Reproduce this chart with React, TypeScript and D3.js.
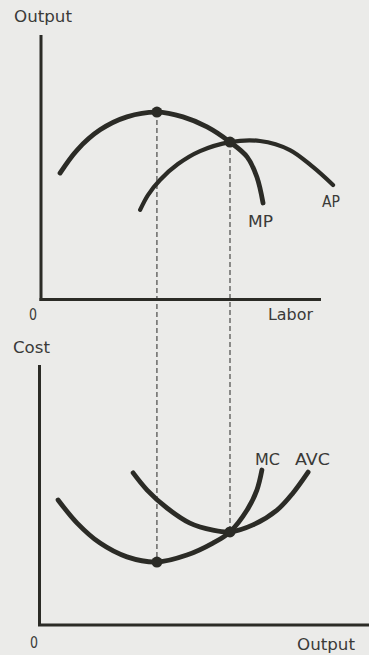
import React from "react";
import * as d3 from "d3";

// Top panel: product curves (x = labor units, y = output units)
const mpX = [0.68, 1.29, 2.11, 3.07, 4.14, 5.07, 5.93, 6.75, 7.36, 7.71, 7.93];
const mpY = [4.79, 5.66, 6.42, 6.91, 7.09, 6.91, 6.53, 5.96, 5.4, 4.64, 3.66];
const apX = [3.54, 3.82, 4.25, 4.89, 5.68, 6.75, 7.82, 8.89, 9.71, 10.43];
const apY = [3.4, 3.96, 4.53, 5.13, 5.62, 5.96, 6.0, 5.66, 5.02, 4.34];

// Bottom panel: cost curves
const mcX = [0.61, 1.29, 2.11, 3.07, 4.14, 5.21, 6.14, 6.75, 7.36, 7.71, 7.89];
const mcY = [4.81, 3.92, 3.15, 2.62, 2.42, 2.69, 3.15, 3.58, 4.42, 5.19, 5.96];
const avcX = [3.29, 3.79, 4.5, 5.32, 6.14, 6.75, 7.57, 8.43, 9.0, 9.54];
const avcY = [5.85, 5.19, 4.5, 3.92, 3.65, 3.58, 3.85, 4.42, 5.08, 5.88];

// Key points
const keyX = [4.14, 6.75];
const keyTopY = [7.09, 5.96];
const keyBottomY = [2.42, 3.58];

const W = 369;
const H = 655;
const BG = "#ebebe9";
const INK = "#2b2b26";
const TXT = "#3a3a38";

export default function App() {
  const x = d3.scaleLinear().domain([0, 10]).range([41, 321]);
  const yTop = d3.scaleLinear().domain([0, 10]).range([300, 35]);
  const yBot = d3.scaleLinear().domain([0, 10]).range([625, 365]);

  const mk = (xs: number[], ys: number[], ys2: d3.ScaleLinear<number, number>) =>
    d3
      .line<number>()
      .x((_, i) => x(xs[i]))
      .y((_, i) => ys2(ys[i]))
      .curve(d3.curveCatmullRom.alpha(0.5))(xs) as string;

  const font = "'DejaVu Sans', Verdana, sans-serif";
  const T = (txt: string, tx: number, ty: number, w: number, size = 15) => (
    <text
      x={tx}
      y={ty}
      fontSize={size}
      fill={TXT}
      fontFamily={font}
      textLength={w}
      lengthAdjust="spacingAndGlyphs"
    >
      {txt}
    </text>
  );

  return (
    <svg
      width={W}
      height={H}
      style={{ position: "absolute", left: 0, top: 0, display: "block" }}
    >
      <rect x={0} y={0} width={W} height={H} fill={BG} />

      {/* dashed verticals */}
      {keyX.map((k, i) => (
        <line
          key={"d" + i}
          x1={x(k)}
          x2={x(k)}
          y1={yTop(keyTopY[i])}
          y2={yBot(keyBottomY[i])}
          stroke="#4a4a48"
          strokeWidth={1.2}
          strokeDasharray="5,3"
        />
      ))}

      {/* top axes */}
      <line x1={x(0)} x2={x(0)} y1={yTop(10)} y2={yTop(0) + 1} stroke={INK} strokeWidth={3} />
      <line x1={x(0) - 1.5} x2={x(10)} y1={yTop(0) - 0.5} y2={yTop(0) - 0.5} stroke={INK} strokeWidth={3} />

      {/* bottom axes */}
      <line x1={x(0) - 1.5} x2={x(0) - 1.5} y1={yBot(10)} y2={yBot(0) + 1} stroke={INK} strokeWidth={3} />
      <line x1={x(0) - 3} x2={W} y1={yBot(0)} y2={yBot(0)} stroke={INK} strokeWidth={3} />

      {/* curves */}
      <path d={mk(mpX, mpY, yTop)} fill="none" stroke={INK} strokeWidth={4.8} strokeLinecap="round" />
      <path d={mk(apX, apY, yTop)} fill="none" stroke={INK} strokeWidth={4.2} strokeLinecap="round" />
      <path d={mk(mcX, mcY, yBot)} fill="none" stroke={INK} strokeWidth={4.8} strokeLinecap="round" />
      <path d={mk(avcX, avcY, yBot)} fill="none" stroke={INK} strokeWidth={4.8} strokeLinecap="round" />

      {/* key dots */}
      {keyX.map((k, i) => (
        <g key={"p" + i}>
          <circle cx={x(k)} cy={yTop(keyTopY[i])} r={5.5} fill={INK} />
          <circle cx={x(k)} cy={yBot(keyBottomY[i])} r={5.5} fill={INK} />
        </g>
      ))}

      {/* labels */}
      {T("Output", 14, 22, 58)}
      {T("0", 29, 320, 8)}
      {T("Labor", 268, 320, 45)}
      {T("MP", 248, 227, 25)}
      {T("AP", 322, 207, 18)}
      {T("Cost", 13, 353, 37)}
      {T("MC", 255, 465, 25)}
      {T("AVC", 295, 465, 35)}
      {T("0", 30, 648, 8)}
      {T("Output", 297, 650, 58)}
    </svg>
  );
}
